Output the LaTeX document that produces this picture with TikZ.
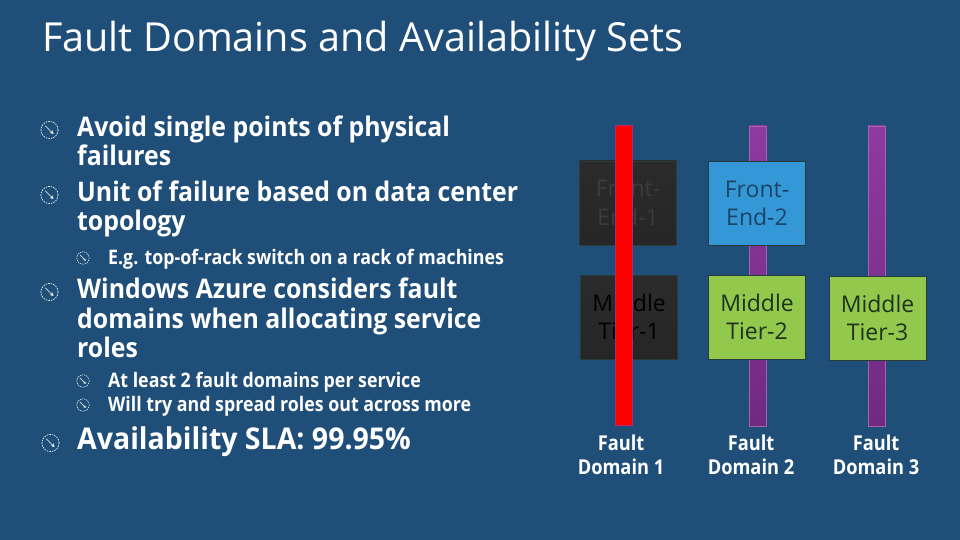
\documentclass[tikz,border=0pt]{standalone}
\usepackage{fontspec}
\setmainfont{Open Sans}
\newfontfamily\titlefont{Open Sans}[FakeStretch=0.99]
\newfontfamily\bodyfont{Open Sans}[FakeStretch=0.92]
\newfontfamily\slafont{Open Sans}[FakeStretch=0.95]
\newfontfamily\subfont{Open Sans}[FakeStretch=0.89]
\newfontfamily\boxfont{Open Sans}[FakeStretch=1.0]
\usetikzlibrary{arrows.meta}
\definecolor{bg}{RGB}{31,78,121}
\definecolor{fdred}{RGB}{255,0,0}
\definecolor{purtop}{RGB}{142,58,160}
\definecolor{purbot}{RGB}{112,42,128}
\definecolor{darkbox}{RGB}{43,43,43}
\definecolor{darkboxb}{RGB}{38,38,38}
\definecolor{fetext}{RGB}{60,60,60}
\definecolor{bluebox}{RGB}{52,152,214}
\definecolor{bluetext}{RGB}{28,66,104}
\definecolor{greenbox}{RGB}{146,200,76}
\definecolor{greentext}{RGB}{30,50,30}
\definecolor{boxline}{RGB}{40,60,60}
\tikzset{
  titletext/.style={anchor=base west, inner sep=0, text=white, font=\titlefont\fontsize{40}{44}\selectfont},
  maintext/.style={anchor=base west, inner sep=0, text=white, font=\bodyfont\bfseries\fontsize{27}{30}\selectfont},
  slatext/.style={anchor=base west, inner sep=0, text=white, font=\slafont\bfseries\fontsize{30}{34}\selectfont},
  subtext/.style={anchor=base west, inner sep=0, text=white, font=\subfont\bfseries\fontsize{20}{24}\selectfont},
  fdlabel/.style={inner sep=0, text=white, align=center, font=\subfont\bfseries\fontsize{20.5}{24}\selectfont},
  rolebox/.style={minimum width=97pt, minimum height=84pt, inner sep=0, align=center, draw=boxline, line width=0.6pt, font=\boxfont\fontsize{23}{28.5}\selectfont},
  darkrole/.style={rolebox, top color=darkbox, bottom color=darkboxb},
  bluerole/.style={rolebox, fill=bluebox, text=bluetext},
  greenrole/.style={rolebox, fill=greenbox, text=greentext},
  purplebar/.style={minimum width=17pt, minimum height=300pt, inner sep=0, top color=purtop, bottom color=purbot, draw=purtop!80!white, line width=0.4pt},
  redbar/.style={minimum width=17pt, minimum height=300pt, inner sep=0, fill=fdred, draw=purtop!70!fdred, line width=0.4pt},
  mbul/.pic={\draw[white, line width=0.6pt, dash pattern=on 1.6pt off 1pt] (0,0) circle (8.6);
             \draw[white, line width=0.7pt, -{Stealth[length=3.5pt,width=3.5pt]}] (-4.2,-4.2) -- (4,4);},
  sbul/.pic={\draw[white, line width=0.5pt, dash pattern=on 1.2pt off 0.8pt] (0,0) circle (6.2);
             \draw[white, line width=0.6pt, -{Stealth[length=2.6pt,width=2.6pt]}] (-3,-3) -- (2.8,2.8);}
}
\begin{document}
\begin{tikzpicture}[x=1pt,y=-1pt]
\fill[bg] (0,0) rectangle (960,540);
\useasboundingbox (0,0) rectangle (960,540);

% title
\node[titletext] (title) at (42,52) {Fault Domains and Availability Sets};

% bullets
\pic at (49.5,130) {mbul};
\node[maintext] (l1) at (77,136.5) {Avoid single points of physical};
\node[maintext] (l2) at (77,165.5) {failures};
\pic at (49.5,195) {mbul};
\node[maintext] (l3) at (77,201.5) {Unit of failure based on data center};
\node[maintext] (l4) at (77,230.5) {topology};
\pic at (83,258) {sbul};
\node[subtext] (s1) at (108,264) {E.g. top-of-rack switch on a rack of machines};
\pic at (49.5,292) {mbul};
\node[maintext] (l5) at (77,298.5) {Windows Azure considers fault};
\node[maintext] (l6) at (77,328) {domains when allocating service};
\node[maintext] (l7) at (77,357.5) {roles};
\pic at (83,381) {sbul};
\node[subtext] (s2) at (108,387) {At least 2 fault domains per service};
\pic at (83,405) {sbul};
\node[subtext] (s3) at (108,411) {Will try and spread roles out across more};
\pic at (50.5,443) {mbul};
\node[slatext] (l8) at (77,449) {Availability SLA: 99.95\%};

% fault domain bars (purple, behind boxes)
\node[purplebar] (bar2) at (757.5,276) {};
\node[purplebar] (bar3) at (876.5,276) {};

% role boxes
\node[darkrole, text=fetext] (fe1) at (628,203) {Front-\\End-1};
\node[bluerole] (fe2) at (757,203.5) {Front-\\End-2};
\node[darkrole, text=black] (mt1) at (629,317) {Middle\\Tier-1};
\node[greenrole] (mt2) at (757,317) {Middle\\Tier-2};
\node[greenrole] (mt3) at (877.5,318) {Middle\\Tier-3};

% failed fault domain (red, on top)
\node[redbar] (bar1) at (624,275.5) {};

% labels
\node[fdlabel] (fd1) at (621,455) {Fault\\Domain 1};
\node[fdlabel] (fd2) at (751,455) {Fault\\Domain 2};
\node[fdlabel] (fd3) at (876,455) {Fault\\Domain 3};
\end{tikzpicture}
\end{document}
